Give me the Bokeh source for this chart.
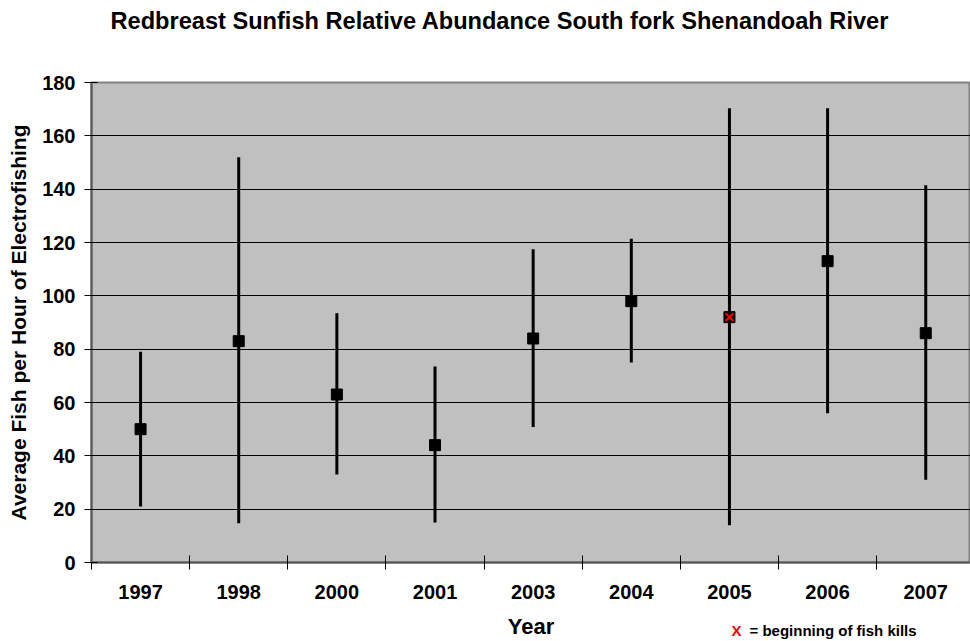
import numpy as np
from bokeh.plotting import figure
from bokeh.models import Range1d, FixedTicker, ColumnDataSource, Label
from bokeh.embed import file_html
from bokeh.resources import INLINE

# ---- data ----
years = ["1997", "1998", "2000", "2001", "2003", "2004", "2005", "2006", "2007"]
means = [50, 83, 63, 44, 84, 98, 92, 113, 86]
lows = [21, 14.7, 33, 15, 50.8, 75, 14, 56, 31]
highs = [79, 152, 93.5, 73.5, 117.5, 121.4, 170.3, 170.3, 141.5]
fish_kill_years = ["2005"]
y_ticks = [0, 20, 40, 60, 80, 100, 120, 140, 160, 180]
title = "Redbreast Sunfish Relative Abundance South fork Shenandoah River"

FONT = "Liberation Sans"

xc = [i + 0.5 for i in range(len(years))]
src = ColumnDataSource(dict(x=xc, mean=means, low=lows, high=highs))
kx = [xc[years.index(y)] for y in fish_kill_years]
km = [means[years.index(y)] for y in fish_kill_years]

p = figure(width=970, height=641, output_backend="svg", toolbar_location=None,
           x_range=Range1d(0, 8.956), y_range=Range1d(0, 180),
           min_border_left=91, min_border_right=0, min_border_top=82, min_border_bottom=78)

p.border_fill_color = "white"
p.background_fill_color = "#C0C0C0"
p.outline_line_color = "#808080"
p.outline_line_width = 2

# grid
p.xgrid.visible = False
p.ygrid.ticker = FixedTicker(ticks=y_ticks)
p.ygrid.grid_line_color = "black"
p.ygrid.grid_line_width = 1

# x axis
xa = p.xaxis[0]
xa.ticker = FixedTicker(ticks=xc, minor_ticks=list(range(len(years) + 1)))
xa.major_label_overrides = {c: y for c, y in zip(xc, years)}
xa.major_tick_in = 0
xa.major_tick_out = 0
xa.minor_tick_in = 7
xa.minor_tick_out = 7
xa.minor_tick_line_color = "black"
xa.axis_line_color = "#555555"
xa.axis_line_width = 2
xa.major_label_text_font = FONT
xa.major_label_text_font_style = "bold"
xa.major_label_text_font_size = "20px"
xa.major_label_text_color = "black"
xa.major_label_standoff = 15
xa.axis_label = "Year"
xa.axis_label_text_font = FONT
xa.axis_label_text_font_style = "bold"
xa.axis_label_text_font_size = "22px"
xa.axis_label_text_color = "black"
xa.axis_label_standoff = 12

# y axis
ya = p.yaxis[0]
ya.ticker = FixedTicker(ticks=y_ticks)
ya.major_tick_in = 6
ya.major_tick_out = 7
ya.major_tick_line_color = "black"
ya.minor_tick_line_color = None
ya.axis_line_color = "#555555"
ya.axis_line_width = 2
ya.major_label_text_font = FONT
ya.major_label_text_font_style = "bold"
ya.major_label_text_font_size = "20px"
ya.major_label_text_color = "black"
ya.major_label_standoff = 9
ya.axis_label = "Average Fish per Hour of Electrofishing"
ya.axis_label_text_font = FONT
ya.axis_label_text_font_style = "bold"
ya.axis_label_text_font_size = "21px"
ya.axis_label_text_color = "black"
ya.axis_label_standoff = 9

# error bars and means
p.segment(x0="x", y0="low", x1="x", y1="high", source=src, line_color="black", line_width=3)
p.scatter(x="x", y="mean", source=src, marker="square", size=11, fill_color="black", line_color="black")
p.scatter(x=kx, y=km, marker="x", size=11, line_color="red", line_width=2)

# title and note (labels held in the top side panel so they are not clipped to the frame)
texts = [(title, 0.1936, 203.0, "23.6px", "black"),
         ("X", 6.521, -25.6, "15px", "red"),
         ("= beginning of fish kills", 6.704, -25.6, "15px", "black")]
for t, xx, yy, fs, col in texts:
    p.add_layout(Label(x=xx, y=yy, x_units="data", y_units="data", text=t,
                       text_font=FONT, text_font_style="bold", text_font_size=fs,
                       text_color=col, text_align="left", text_baseline="alphabetic"), "above")

open("out.html", "w").write(file_html(p, INLINE))
